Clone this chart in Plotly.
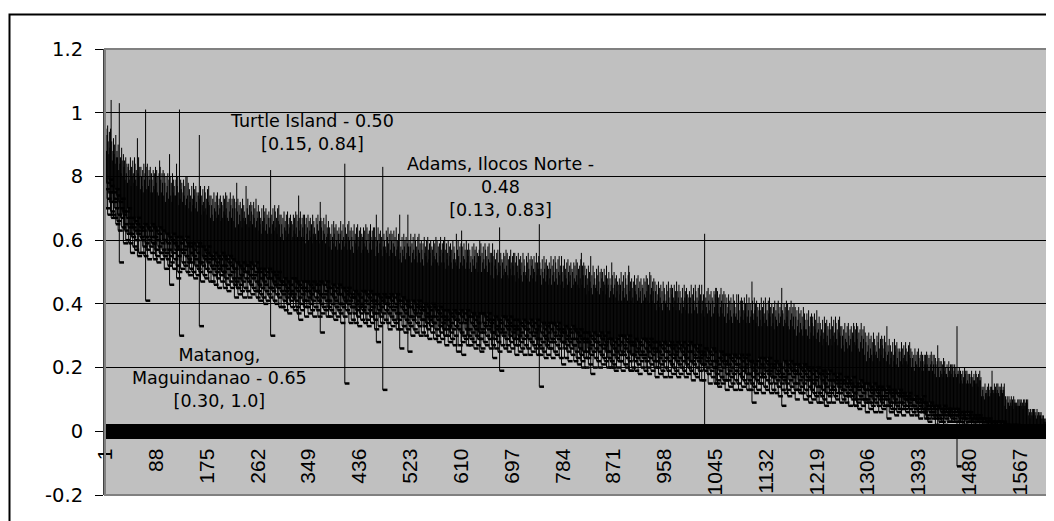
import plotly.graph_objects as go

# Lower / upper bounds of the interval per municipality (hundredths),
# municipalities sorted by point estimate (1 .. 1616)
LO = [
76,70,78,73,68,75,79,72,77,69,67,68,75,72,67,73,70,76,65,74,66,68,63,72,53,70,67,73,64,69,68,59,65,63,69,60,67,62,70,64,
59,65,62,56,67,61,64,58,63,66,57,60,65,62,67,55,63,56,64,61,64,56,60,63,58,65,55,61,59,41,57,64,54,60,63,58,61,56,65,59,
59,64,54,61,57,63,55,60,53,62,58,64,56,56,54,59,63,57,60,55,60,51,56,62,54,59,57,52,61,55,46,53,60,56,62,51,59,54,57,61,
58,52,48,55,50,57,61,30,59,51,56,53,60,57,52,58,55,61,50,59,53,54,49,58,51,56,53,59,50,55,57,48,54,52,58,49,56,51,59,53,
50,33,53,47,58,52,55,49,54,57,48,51,56,53,58,50,54,47,55,52,55,47,51,54,49,56,46,52,50,53,48,55,45,51,54,49,52,47,56,50,
50,55,45,52,48,54,46,51,44,53,49,55,47,52,45,50,54,48,51,46,51,42,47,53,45,45,48,43,52,46,49,44,51,47,53,42,50,45,48,52,
50,44,52,47,42,49,53,46,51,43,48,45,52,49,44,50,47,53,42,51,44,46,41,50,43,48,45,51,42,47,49,40,46,44,50,41,48,43,51,45,
42,48,45,30,50,44,47,41,46,49,40,43,48,45,50,42,46,39,47,44,47,39,43,46,41,48,38,44,42,45,40,47,37,43,46,41,44,39,48,42,
43,48,38,45,41,47,39,44,37,46,42,35,40,45,38,43,47,41,44,39,45,36,41,47,39,44,42,37,46,40,43,38,45,41,47,36,44,39,42,46,
44,38,46,41,36,43,47,40,31,37,42,39,46,43,38,44,41,47,36,45,39,41,36,45,38,43,40,46,37,42,44,35,41,39,45,36,43,38,46,40,
37,43,40,34,45,39,42,36,41,44,15,38,43,40,45,37,41,34,42,39,43,35,39,42,37,44,34,40,38,41,36,43,33,39,42,37,40,35,44,38,
39,44,34,41,37,43,35,40,33,42,38,44,36,41,34,39,43,37,40,35,41,32,37,43,28,40,38,33,42,36,39,34,41,37,43,13,40,35,38,42,
40,34,42,37,32,39,43,36,41,33,38,35,42,39,34,40,37,43,32,41,35,37,32,41,26,39,36,42,33,38,40,31,37,35,41,32,39,34,25,36,
33,39,36,30,41,35,38,32,37,40,31,34,39,36,41,33,37,30,38,35,39,31,35,38,33,40,30,36,34,37,32,39,29,35,38,33,36,31,40,34,
34,39,29,36,32,38,30,35,28,37,33,39,31,36,29,34,38,32,35,30,36,27,32,38,30,35,33,28,37,31,34,29,36,32,38,27,35,30,33,37,
35,25,37,32,27,34,38,31,36,28,24,30,37,34,29,35,32,38,27,36,30,32,27,36,29,34,31,37,28,33,35,26,32,30,36,27,34,29,37,31,
29,25,32,26,37,31,34,28,33,36,27,30,35,32,37,29,33,26,34,31,35,27,31,23,29,36,26,32,30,33,28,35,25,31,34,19,32,27,36,30,
31,36,26,33,29,35,27,32,25,34,30,36,28,33,26,31,35,29,32,27,33,24,29,35,27,32,30,25,34,28,31,26,33,29,35,24,32,27,30,34,
32,26,34,29,24,31,35,28,33,25,30,27,34,31,26,32,29,35,24,33,27,29,24,14,26,31,28,34,25,30,32,23,29,27,33,24,31,26,34,28,
26,32,29,23,34,28,31,25,30,33,24,27,32,29,34,26,30,23,31,28,32,21,28,31,26,33,23,29,27,30,25,32,22,28,31,26,29,24,33,27,
27,32,22,29,25,31,23,28,21,30,26,32,24,29,22,20,31,25,28,23,29,20,25,31,23,28,26,21,30,24,27,18,29,25,31,20,28,23,26,30,
28,22,30,25,20,27,31,24,29,21,26,23,30,27,22,28,25,31,20,29,23,25,20,29,22,27,24,20,21,26,28,19,25,23,29,20,27,22,30,24,
22,28,25,19,30,24,27,21,26,29,20,23,28,25,30,22,19,19,27,24,28,20,24,27,22,29,19,25,23,26,21,28,18,24,27,22,25,20,29,23,
24,29,19,26,22,28,20,25,18,27,23,29,21,26,19,24,28,22,25,20,26,17,22,28,20,25,23,18,27,21,24,19,26,22,28,17,25,20,23,27,
25,19,27,22,17,24,28,21,26,18,23,20,27,24,19,25,22,28,17,26,21,23,18,27,20,25,22,28,19,24,26,17,23,21,27,18,25,20,28,22,
19,25,22,16,27,21,24,18,23,26,17,20,25,22,27,19,23,16,24,21,25,16,21,24,19,26,0,22,20,23,18,25,15,21,24,19,22,17,26,20,
20,25,15,22,18,15,16,21,14,23,19,25,17,22,15,20,24,16,21,16,22,13,18,24,16,21,19,14,23,17,20,15,22,18,24,13,21,16,19,23,
21,15,23,18,13,20,24,17,22,14,19,16,23,20,15,21,18,24,13,22,16,18,13,22,15,20,17,9,14,19,21,12,18,16,22,13,20,15,23,17,
15,21,18,12,23,17,20,14,19,22,13,16,21,18,23,15,19,12,20,17,21,13,17,20,15,22,12,18,16,19,14,21,11,17,20,15,18,13,8,16,
17,22,12,19,15,21,13,18,11,20,16,22,14,19,12,17,21,15,18,13,19,10,15,21,13,18,16,12,20,14,17,12,19,15,21,10,18,13,16,20,
17,11,19,14,9,16,20,13,18,10,15,12,19,16,11,17,14,20,9,18,12,14,9,18,11,16,13,19,10,15,17,8,14,12,18,9,16,11,19,13,
12,16,14,9,18,13,16,11,15,17,10,12,16,14,18,12,15,9,16,13,16,10,13,15,11,17,9,14,12,15,11,16,8,13,15,11,14,10,17,12,
12,8,8,14,10,15,9,13,7,14,11,16,10,14,8,12,15,10,13,9,13,6,10,15,9,13,11,7,14,9,12,8,13,10,15,6,13,9,11,14,
12,8,13,10,6,11,14,9,13,7,10,8,13,11,8,12,10,14,4,13,8,9,6,12,7,11,9,13,7,10,12,5,9,8,12,6,11,7,13,9,
7,11,9,5,12,8,10,7,10,11,6,8,11,9,12,7,10,5,10,8,10,6,8,10,7,11,5,9,7,9,6,10,4,8,10,7,9,6,11,7,
6,9,4,7,5,8,4,7,3,8,6,9,5,7,4,6,8,5,7,4,7,2,5,8,4,0,5,3,7,4,6,3,7,5,8,2,6,4,5,7,
6,3,7,5,3,5,7,4,6,3,5,4,7,5,3,6,5,7,-11,6,3,4,2,6,3,5,4,6,2,4,5,2,4,3,6,2,5,3,6,4,
3,4,3,2,5,3,4,2,4,5,2,3,4,3,5,3,4,2,4,3,4,1,2,3,2,4,1,3,2,3,2,4,1,2,3,2,3,1,0,2,
2,3,1,2,2,3,1,2,1,3,2,3,1,2,1,2,3,2,2,1,2,0,1,2,0,1,1,0,2,1,1,0,2,1,2,0,1,0,1,2,
1,0,1,1,0,1,0,1,0,1,1,0,1,0,1,1,0,1,0,1,1,0,0,1,0,1,1,0,1,0,0,1,0,1,1,0,0,1,0,1,
0,1,0,0,0,0,-1,0,0,0,0,-1,0,0,0,0,
]

HI = [
90,95,88,93,96,91,87,94,89,95,104,91,85,88,92,87,90,84,93,86,88,86,90,82,103,84,86,81,89,85,80,87,83,85,79,86,81,84,78,83,
84,79,82,86,77,83,80,85,81,78,86,84,79,82,77,92,81,86,80,83,76,83,80,77,82,75,84,79,81,101,83,76,84,80,77,82,79,83,75,81,
79,75,82,77,81,76,83,78,82,75,80,74,81,85,83,79,75,81,78,82,74,81,78,72,80,75,77,81,73,79,87,80,74,78,72,81,75,79,77,74,
74,79,84,77,80,75,71,101,73,79,76,78,72,75,79,74,77,71,80,73,80,74,78,70,76,72,74,69,77,73,71,78,74,76,70,77,72,75,69,74,
75,93,73,77,68,74,71,76,72,69,77,75,70,73,68,76,72,77,71,74,67,74,71,68,73,66,75,70,72,69,74,67,75,71,68,73,70,74,66,72,
71,67,74,69,73,68,75,70,74,67,72,66,73,69,75,71,67,73,70,74,66,73,70,64,72,78,69,73,65,71,68,72,66,70,64,73,67,71,69,66,
67,77,65,70,73,68,64,71,66,72,69,71,65,68,72,67,70,64,73,66,69,67,71,63,69,65,67,62,70,66,64,71,67,69,63,70,65,68,62,67,
69,64,67,82,62,68,65,70,66,63,71,69,64,67,62,70,66,71,65,68,61,68,65,62,67,60,69,64,66,63,68,61,69,65,62,67,64,68,60,66,
65,61,68,63,67,62,69,64,68,61,66,74,67,63,69,65,61,67,64,68,61,68,65,59,67,62,64,68,60,66,63,67,61,65,59,68,62,66,64,61,
62,67,60,65,68,63,59,66,72,67,64,66,60,63,67,62,65,59,68,61,64,62,66,58,64,60,62,57,65,61,59,66,62,64,58,65,60,63,57,62,
64,59,62,66,57,63,60,65,61,58,84,64,59,62,57,65,61,66,60,63,57,64,61,58,63,56,65,60,62,59,64,57,65,61,58,63,60,64,56,62,
61,57,64,59,63,58,65,60,64,57,62,56,63,59,65,61,57,63,60,64,57,64,61,55,68,58,60,64,56,62,59,63,57,61,55,83,58,62,60,57,
58,63,56,61,64,59,55,62,57,63,60,62,56,59,63,58,61,55,64,57,60,58,62,54,68,56,58,53,61,57,55,62,58,60,54,61,56,59,68,58,
60,55,58,62,53,59,56,61,57,54,62,60,55,58,53,61,57,62,56,59,53,60,57,54,59,52,61,56,58,55,60,53,61,57,54,59,56,60,52,58,
57,53,60,55,59,54,61,56,60,53,58,52,59,55,61,57,53,59,56,60,53,61,57,51,59,54,56,60,52,58,55,59,53,57,51,60,54,58,56,53,
54,62,52,57,60,55,51,58,53,59,63,58,52,55,59,54,57,51,60,53,57,55,59,51,57,53,55,50,58,54,52,59,55,57,51,58,53,56,50,55,
57,60,55,59,50,56,53,58,54,51,59,57,52,55,50,58,54,59,53,56,49,56,53,59,55,48,57,52,54,51,56,49,57,53,50,64,52,56,48,54,
53,49,56,51,55,50,57,52,56,49,54,48,55,51,57,53,49,55,52,56,49,56,53,47,55,50,52,56,48,54,51,55,49,53,47,56,50,54,52,49,
50,55,48,53,56,51,47,54,49,55,52,54,48,51,55,50,53,47,56,49,53,51,55,65,53,49,51,46,54,50,48,55,51,53,47,54,49,52,46,51,
53,48,51,55,46,52,49,54,50,47,55,53,48,51,46,54,50,55,49,52,46,55,50,47,52,45,54,49,51,48,53,46,54,50,47,52,49,53,45,51,
50,46,53,48,52,47,54,49,53,46,51,45,52,48,54,56,46,52,49,53,45,52,49,43,51,46,48,52,44,50,47,55,45,49,43,52,46,50,48,45,
46,51,44,49,52,47,43,50,45,51,48,50,44,47,51,46,49,43,52,45,48,46,50,42,48,44,46,53,49,45,43,50,46,48,42,49,44,47,41,46,
48,43,46,50,41,47,44,49,45,42,50,48,43,46,41,49,52,50,44,47,41,48,45,42,47,40,49,44,46,43,48,41,49,45,42,47,44,48,40,46,
45,41,48,43,47,42,49,44,48,41,46,40,50,43,49,45,41,47,44,48,40,47,44,38,46,41,43,47,39,45,42,46,40,44,38,47,41,45,43,40,
41,46,39,44,47,42,38,45,40,46,43,45,39,42,46,41,44,38,47,40,44,42,46,38,44,40,42,37,45,41,39,46,42,44,38,45,40,43,37,42,
44,39,42,46,37,43,40,45,41,38,46,44,39,42,37,45,41,46,40,43,37,46,41,38,43,36,62,40,42,39,44,37,45,41,38,43,40,44,36,42,
41,37,44,39,43,45,45,40,44,37,42,36,43,39,45,41,37,43,40,44,36,43,40,34,42,37,39,43,35,41,38,42,36,40,34,43,37,41,39,36,
37,43,35,40,43,38,34,41,36,42,39,41,35,38,42,37,40,34,43,36,40,38,42,34,40,36,38,47,41,37,35,42,38,40,34,41,36,39,33,38,
40,35,38,42,33,39,36,41,37,34,42,40,35,38,33,41,37,42,36,39,33,40,37,34,39,32,41,36,38,35,40,33,41,37,34,39,36,40,45,38,
37,33,40,35,39,34,41,36,40,33,38,32,39,35,41,37,33,39,36,40,32,39,36,30,38,33,35,39,31,37,34,38,32,36,30,39,33,37,35,32,
32,37,30,35,38,33,29,36,31,37,34,36,30,33,37,32,35,29,38,31,34,32,36,28,34,30,32,27,35,31,29,36,32,34,28,35,30,33,27,32,
34,29,32,36,27,33,30,35,31,28,36,34,29,32,27,35,31,36,30,33,26,33,30,27,32,25,34,29,31,28,33,26,34,30,27,32,29,33,25,31,
30,34,33,28,32,27,34,29,33,26,31,25,32,28,34,30,26,32,29,33,24,31,28,22,30,25,27,31,23,29,26,30,24,28,22,31,25,29,27,24,
25,30,23,28,31,26,22,29,24,30,27,29,23,26,30,25,28,22,33,24,27,25,29,21,27,23,25,20,28,24,22,29,25,27,21,28,23,26,20,25,
26,22,25,28,21,26,23,27,24,22,28,26,22,25,21,27,24,28,23,26,20,25,23,20,24,19,26,22,24,21,25,20,26,23,20,24,22,25,19,24,
22,19,24,21,24,20,25,21,24,19,23,19,24,21,25,22,19,24,21,24,18,23,21,17,22,27,20,23,17,22,19,22,18,21,17,23,19,22,20,18,
18,21,17,20,22,19,17,21,18,21,20,21,17,19,21,18,20,17,33,18,19,18,20,15,19,16,18,15,19,17,16,20,18,19,15,19,16,18,15,18,
18,15,17,19,14,17,16,18,16,15,19,18,15,17,14,18,16,19,16,17,11,14,13,11,14,10,15,12,13,12,14,11,15,13,11,14,12,14,19,13,
13,12,15,13,14,12,15,13,15,12,14,11,14,13,15,13,12,14,13,15,8,11,10,7,11,9,9,11,8,10,9,11,8,10,7,11,9,10,9,8,
9,8,10,8,10,8,10,9,10,8,9,7,10,8,10,9,8,10,9,10,5,7,6,4,7,5,6,7,5,7,6,7,5,6,4,7,5,6,6,5,
6,5,6,4,5,4,5,3,4,3,4,3,2,3,2,1,
]

X_TICK_LABELS = [1, 88, 175, 262, 349, 436, 523, 610, 697, 784, 871, 958,
                 1045, 1132, 1219, 1306, 1393, 1480, 1567]
Y_TICKS = [-0.2, 0.0, 0.2, 0.4, 0.6, 0.8, 1.0, 1.2]
Y_TICK_TEXT = ["-0.2", "0", "0.2", "0.4", "0.6", "8", "1", "1.2"]

NOTES = [
    "Turtle Island - 0.50<br>[0.15, 0.84]",
    "Adams, Ilocos Norte -<br>0.48<br>[0.13, 0.83]",
    "Matanog,<br>Maguindanao - 0.65<br>[0.30, 1.0]",
]

assert len(LO) == len(HI)
N = len(LO)

FONT_AX = "Liberation Sans, Arial, sans-serif"
FONT_TXT = "DejaVu Sans, sans-serif"
DASH = 8  # length of the low-end tick, in category units

vx, vy, dx, dy = [], [], [], []
for i, (lo, hi) in enumerate(zip(LO, HI), start=1):
    vx += [i, i, None]
    vy += [lo / 100, hi / 100, None]
    dx += [i, i + DASH, None]
    dy += [lo / 100, lo / 100, None]

fig = go.Figure()
fig.add_trace(go.Scatter(x=vx, y=vy, mode="lines",
                         line=dict(color="black", width=1),
                         hoverinfo="skip", showlegend=False))
fig.add_trace(go.Scatter(x=dx, y=dy, mode="lines",
                         line=dict(color="black", width=2.5),
                         hoverinfo="skip", showlegend=False))
# helper traces so the tick-mark overlay axes are drawn
fig.add_trace(go.Scatter(x=[None], y=[None], xaxis="x2", showlegend=False, hoverinfo="skip"))
fig.add_trace(go.Scatter(x=[None], y=[None], xaxis="x3", showlegend=False, hoverinfo="skip"))

y_min, y_max = -0.2, 1.2
zero_pos = (0 - y_min) / (y_max - y_min)
bounds = [k + 0.5 for k in range(0, N + 1)]

tick_axis = dict(range=[0.5, N + 0.5], overlaying="x", anchor="free", position=zero_pos,
                 tickmode="array", tickvals=bounds, ticklen=7, tickwidth=0.5,
                 tickcolor="black", showticklabels=False, showgrid=False,
                 zeroline=False, showline=False, automargin=False)

annos = []
for txt, (ax_, ay_) in zip(NOTES, [(355, 0.937), (677, 0.767), (196, 0.166)]):
    annos.append(dict(x=ax_, y=ay_, xref="x", yref="y", text=txt, showarrow=False,
                      align="center", font=dict(family=FONT_TXT, size=17.5, color="black")))

# the page body adds an 8px offset, so the figure is 8px smaller than the window
fig.update_layout(
    width=1046, height=513,
    margin=dict(l=97, r=5, t=41, b=26),
    paper_bgcolor="white", plot_bgcolor="#C0C0C0",
    showlegend=False,
    xaxis=dict(range=[0.5, N + 0.5], anchor="free", position=zero_pos,
               tickmode="array", tickvals=X_TICK_LABELS,
               ticktext=[str(v) for v in X_TICK_LABELS],
               tickangle=-90, ticks="", showgrid=False, zeroline=False,
               showline=True, linecolor="black", linewidth=1,
               tickfont=dict(family=FONT_AX, size=21, color="black"),
               ticklabelstandoff=8, automargin=False),
    xaxis2=dict(tick_axis, ticks="outside"),
    xaxis3=dict(tick_axis, ticks="inside"),
    yaxis=dict(range=[y_min, y_max], tickmode="array", tickvals=Y_TICKS,
               ticktext=Y_TICK_TEXT, ticks="outside", ticklen=8, tickcolor="black",
               showgrid=True, gridcolor="black", gridwidth=1, zeroline=False,
               showline=True, linecolor="#404040", linewidth=2,
               tickfont=dict(family=FONT_TXT, size=19.5, color="black"),
               ticklabelstandoff=8, automargin=False),
    annotations=annos,
    shapes=[
        dict(type="rect", xref="paper", yref="paper", x0=0, x1=1, y0=0, y1=1,
             line=dict(color="#808080", width=2), layer="above"),
        dict(type="rect", xref="paper", yref="paper",
             x0=(9.5 - 105) / 944, x1=1.2, y0=-0.3, y1=(495 - 14.5) / 446,
             line=dict(color="black", width=2), layer="below"),
    ],
)

fig.write_html("out.html")
